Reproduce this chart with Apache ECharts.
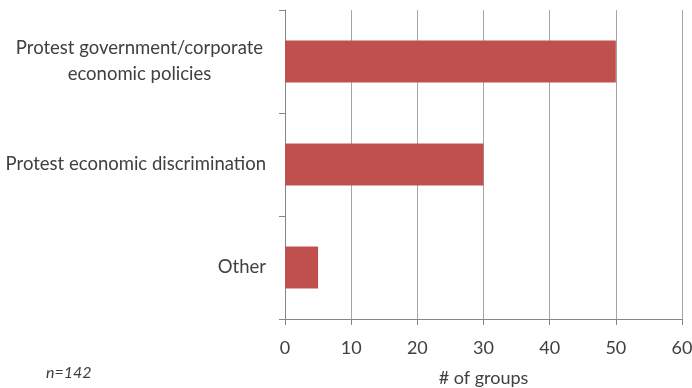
<!DOCTYPE html>
<html><head><meta charset="utf-8">
<script src="https://cdn.jsdelivr.net/npm/echarts@6/dist/echarts.min.js"></script>
<style>html,body{margin:0;padding:0;background:#fff}#c{width:692px;height:388px}</style>
</head><body><div id="c"></div>
<script>
var categories = ['Protest government/corporate\neconomic policies', 'Protest economic discrimination', 'Other'];
var values = [50, 30, 5];
var xTicks = [0, 10, 20, 30, 40, 50, 60];
var FONT = 'Lato';
var chart = echarts.init(document.getElementById('c'));
chart.setOption({
  animation: false,
  title: {
    text: 'n=142', left: 41, top: 360,
    textStyle: { fontFamily: FONT, fontStyle: 'italic', fontWeight: 'normal', fontSize: 16, color: '#404040' }
  },
  grid: { left: 285, right: 10, top: 10, bottom: 69, containLabel: false, outerBoundsMode: 'none' },
  xAxis: {
    type: 'value', min: xTicks[0], max: xTicks[xTicks.length - 1], interval: 10,
    name: '# of groups', nameLocation: 'middle', nameGap: 50,
    nameTextStyle: { fontFamily: FONT, fontSize: 18, color: '#404040' },
    axisLine: { show: true, lineStyle: { color: '#868686' } },
    axisTick: { show: true, length: 6, lineStyle: { color: '#868686' } },
    axisLabel: { margin: 20, fontFamily: FONT, fontSize: 18, color: '#404040' },
    splitLine: { show: true, lineStyle: { color: '#a6a6a6' } }
  },
  yAxis: {
    type: 'category', data: categories, inverse: true,
    axisLine: { show: true, lineStyle: { color: '#868686' } },
    axisTick: { show: true, length: 6, lineStyle: { color: '#868686' } },
    axisLabel: {
      margin: 19, fontFamily: FONT, fontSize: 18.5, color: '#404040', lineHeight: 26,
      formatter: function (v) {
        var parts = v.split('\n');
        if (parts.length === 1) return v;
        return parts.map(function (p) { return '{c|' + p + '}'; }).join('\n');
      },
      rich: { c: { width: 253, align: 'center', fontFamily: FONT, fontSize: 18.5, color: '#404040', lineHeight: 26 } }
    },
    splitLine: { show: false }
  },
  series: [{
    type: 'bar', data: values, barWidth: 42,
    itemStyle: { color: '#c0504d' }
  }]
});
</script></body></html>
